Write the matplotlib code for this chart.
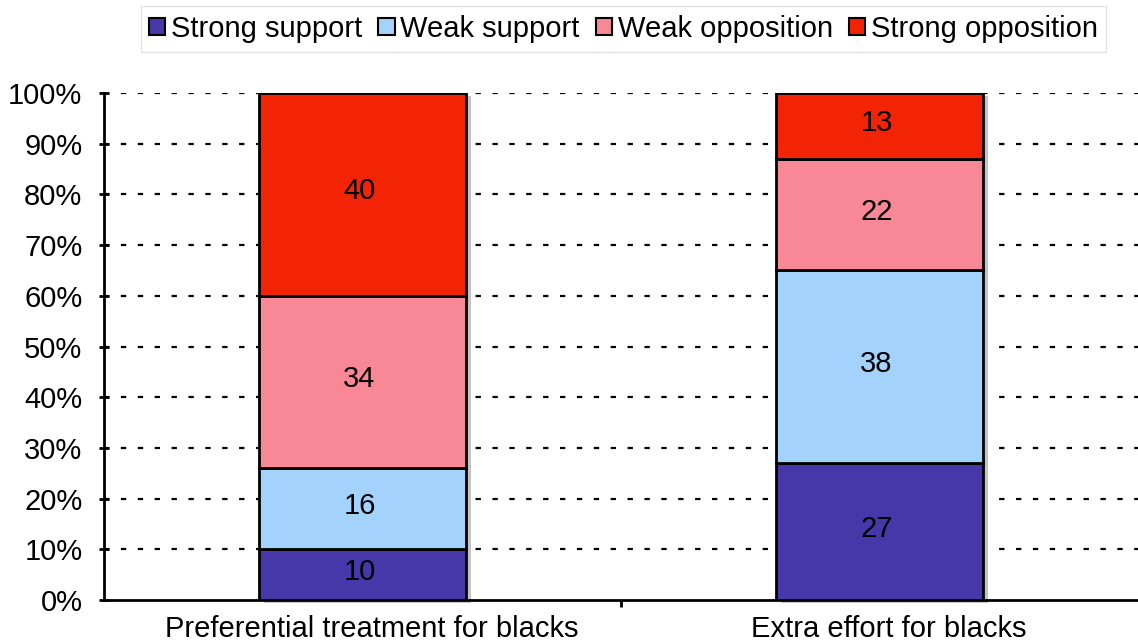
import matplotlib
matplotlib.use("Agg")
import matplotlib.pyplot as plt
import matplotlib.transforms as mtransforms
from matplotlib.patches import Patch
import numpy as np

plt.rcParams['font.family'] = ['Liberation Sans', 'DejaVu Sans']

categories = ["Preferential treatment for blacks", "Extra effort for blacks"]
series_names = ["Strong support", "Weak support", "Weak opposition", "Strong opposition"]
values = {
    "Strong support": [10, 27],
    "Weak support": [16, 38],
    "Weak opposition": [34, 22],
    "Strong opposition": [40, 13],
}
colors = {
    "Strong support": "#4638A8",
    "Weak support": "#A3D3FD",
    "Weak opposition": "#F88896",
    "Strong opposition": "#F22405",
}
y_ticks = [0, 10, 20, 30, 40, 50, 60, 70, 80, 90, 100]

FS = 21
fig = plt.figure(figsize=(11.38, 6.44), dpi=100)
ax = fig.add_axes([104 / 1138, 1 - 600 / 644, 1 - 104 / 1138, (600 - 93) / 644])

x = np.arange(len(categories))
width = 0.402

# drop shadow behind each stacked column
totals = np.sum([values[s] for s in series_names], axis=0)
shadow_tr = mtransforms.offset_copy(ax.transData, fig=fig, x=5, y=-3, units='dots')
ax.bar(x, totals, width=width, color='#c4c4c4', edgecolor='none', zorder=1,
       transform=shadow_tr, clip_on=False)

label_tr = mtransforms.offset_copy(ax.transData, fig=fig, x=-3, y=3, units='dots')
bottom = np.zeros(len(categories))
for s in series_names:
    v = np.array(values[s], dtype=float)
    ax.bar(x, v, width=width, bottom=bottom, color=colors[s], edgecolor='black',
           linewidth=2, zorder=3)
    for xi, vi, bi in zip(x, v, bottom):
        ax.text(xi, bi + vi / 2, f"{vi:.0f}", ha='center', va='center',
                fontsize=FS, color='black', zorder=4, transform=label_tr)
    bottom += v

ax.set_xlim(-0.5, 1.5)
ax.set_ylim(0, 100)
ax.set_yticks(y_ticks)
ax.set_yticklabels([f"{t}%" for t in y_ticks], fontsize=FS)
ax.set_xticks(x)
ax.set_xticklabels(categories, fontsize=FS)
ax.set_xticks([0.5], minor=True)
ax.tick_params(axis='x', which='major', length=0, pad=11)
ax.tick_params(axis='x', which='minor', length=5, width=2, direction='out')
ax.tick_params(axis='y', which='major', length=7, width=2, direction='inout', pad=12)

# category captions sit a little right of the column centres
shift = mtransforms.ScaledTranslation(9 / 100, 0, fig.dpi_scale_trans)
for lab in ax.get_xticklabels():
    lab.set_transform(lab.get_transform() + shift)

for sp in ['top', 'right']:
    ax.spines[sp].set_visible(False)
ax.spines['left'].set_linewidth(2)
ax.spines['bottom'].set_linewidth(2)

for t in y_ticks[1:]:
    ax.axhline(t, color='black', linewidth=1.6, linestyle=(0, (2.4, 5.2)), zorder=0.5)

handles = [Patch(facecolor=colors[s], edgecolor='black', linewidth=1.5) for s in series_names]
leg = fig.legend(handles, series_names, loc='center', bbox_to_anchor=(623.5 / 1138, 1 - 29 / 644),
                 ncol=4, fontsize=FS, frameon=True, fancybox=False, handlelength=0.55,
                 handleheight=0.55, handletextpad=0.2, columnspacing=0.55,
                 borderpad=0.3, borderaxespad=0)
leg.get_frame().set_edgecolor('#dddddd')
leg.get_frame().set_linewidth(1)

fig.savefig("out.png", dpi=100)
